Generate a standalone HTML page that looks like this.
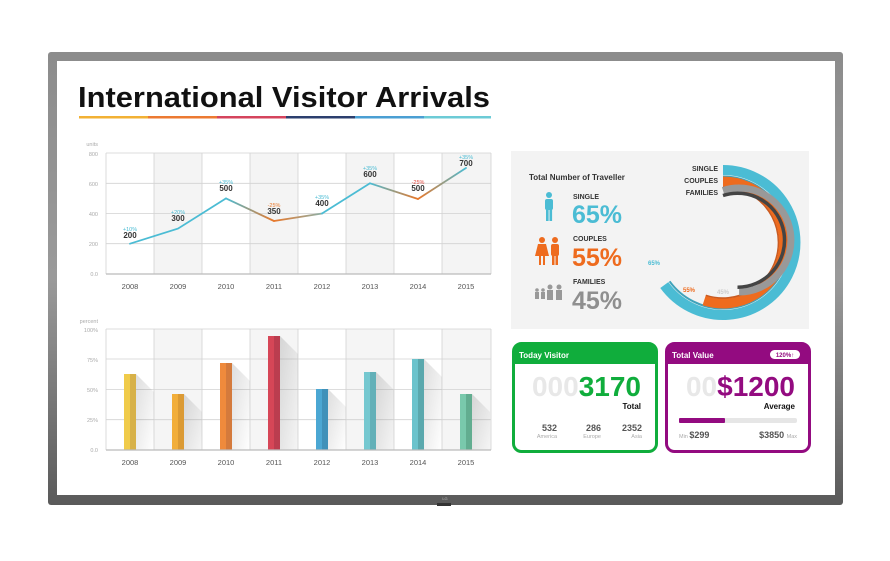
<!DOCTYPE html>
<html><head><meta charset="utf-8"><style>
html,body{margin:0;padding:0;background:#fff;}
svg{display:block;font-family:"Liberation Sans",sans-serif;}
</style></head><body>
<svg width="890" height="561" viewBox="0 0 890 561" xmlns="http://www.w3.org/2000/svg">
<defs>
<linearGradient id="bez" x1="0" y1="0" x2="0" y2="1"><stop offset="0" stop-color="#8c8c8c"/><stop offset="0.5" stop-color="#9a9a9a"/><stop offset="1" stop-color="#5a5a5a"/></linearGradient>
<linearGradient id="sh" x1="0" y1="0" x2="1" y2="1"><stop offset="0" stop-color="#000" stop-opacity="0.13"/><stop offset="1" stop-color="#000" stop-opacity="0"/></linearGradient>
<linearGradient id="g1" x1="0" x2="1"><stop offset="0" stop-color="#4bbcd4"/><stop offset="1" stop-color="#e8782a"/></linearGradient>
<linearGradient id="g2" x1="0" x2="1"><stop offset="0" stop-color="#e8782a"/><stop offset="1" stop-color="#8cb0a8"/></linearGradient>
<linearGradient id="g3" x1="0" x2="1"><stop offset="0" stop-color="#4bbcd4"/><stop offset="1" stop-color="#e8782a"/></linearGradient>
<linearGradient id="g4" x1="0" x2="1"><stop offset="0" stop-color="#e8782a"/><stop offset="1" stop-color="#4bbcd4"/></linearGradient>
</defs>
<!-- bezel -->
<rect x="48" y="52" width="795" height="453" rx="3" fill="url(#bez)"/>
<rect x="57" y="61" width="778" height="434" fill="#fff"/>
<rect x="437" y="503" width="14" height="3" fill="#333"/>
<text x="445" y="500" font-size="4" fill="#bbb" text-anchor="middle">LG</text>

<!-- title -->
<text x="78" y="107" font-size="29" font-weight="bold" fill="#111" textLength="412" lengthAdjust="spacingAndGlyphs">International Visitor Arrivals</text>
<rect x="79" y="116" width="69" height="2.5" fill="#f2b134"/>
<rect x="148" y="116" width="69" height="2.5" fill="#ec7a32"/>
<rect x="217" y="116" width="69" height="2.5" fill="#d5445d"/>
<rect x="286" y="116" width="69" height="2.5" fill="#2c3f6e"/>
<rect x="355" y="116" width="69" height="2.5" fill="#4a9fd3"/>
<rect x="424" y="116" width="67" height="2.5" fill="#6ccbd6"/>

<!-- line chart -->
<g>
<rect x="154" y="153" width="48" height="121" fill="#f4f4f4"/>
<rect x="250" y="153" width="48" height="121" fill="#f4f4f4"/>
<rect x="346" y="153" width="48" height="121" fill="#f4f4f4"/>
<rect x="442" y="153" width="49" height="121" fill="#f4f4f4"/>
<g stroke="#d2d2d2" stroke-width="0.8">
<line x1="106" y1="153" x2="491" y2="153"/><line x1="106" y1="183.3" x2="491" y2="183.3"/><line x1="106" y1="213.5" x2="491" y2="213.5"/><line x1="106" y1="243.7" x2="491" y2="243.7"/>
<line x1="106" y1="153" x2="106" y2="274"/><line x1="154" y1="153" x2="154" y2="274"/><line x1="202" y1="153" x2="202" y2="274"/><line x1="250" y1="153" x2="250" y2="274"/><line x1="298" y1="153" x2="298" y2="274"/><line x1="346" y1="153" x2="346" y2="274"/><line x1="394" y1="153" x2="394" y2="274"/><line x1="442" y1="153" x2="442" y2="274"/><line x1="491" y1="153" x2="491" y2="274"/>
</g>
<line x1="106" y1="274" x2="491" y2="274" stroke="#bbb" stroke-width="1.2"/>
<g font-size="5.5" fill="#aaa" text-anchor="end"><text x="98" y="146">units</text><text x="98" y="156">800</text><text x="98" y="186">600</text><text x="98" y="216">400</text><text x="98" y="246">200</text><text x="98" y="276">0.0</text></g>
<g stroke-width="1.8" fill="none" stroke-linecap="round">
<polyline points="130,243.7 178,228.6 226,198.4" stroke="#4bbcd4"/>
<line x1="226" y1="198.4" x2="274" y2="221" stroke="url(#g1)"/>
<line x1="274" y1="221" x2="322" y2="213.5" stroke="url(#g2)"/>
<line x1="322" y1="213.5" x2="370" y2="183.3" stroke="#4bbcd4"/>
<line x1="370" y1="183.3" x2="418" y2="199" stroke="url(#g3)"/>
<line x1="418" y1="199" x2="466" y2="168" stroke="url(#g4)"/>
</g>
<g font-size="8" font-weight="bold" fill="#333" text-anchor="middle">
<text x="130" y="238">200</text><text x="178" y="221">300</text><text x="226" y="191">500</text><text x="274" y="214">350</text><text x="322" y="206">400</text><text x="370" y="177">600</text><text x="418" y="191">500</text><text x="466" y="166">700</text></g>
<g font-size="5.5" text-anchor="middle" fill="#4bbcd4">
<text x="130" y="231">+10%</text><text x="178" y="214">+20%</text><text x="226" y="184">+35%</text><text x="274" y="207" fill="#e8782a">-25%</text><text x="322" y="199">+35%</text><text x="370" y="170">+35%</text><text x="418" y="184" fill="#e0463d">-25%</text><text x="466" y="159">+35%</text></g>
<g font-size="7.5" fill="#555" text-anchor="middle"><text x="130" y="289">2008</text><text x="178" y="289">2009</text><text x="226" y="289">2010</text><text x="274" y="289">2011</text><text x="322" y="289">2012</text><text x="370" y="289">2013</text><text x="418" y="289">2014</text><text x="466" y="289">2015</text></g>
</g>

<!-- bar chart -->
<g>
<rect x="154" y="329" width="48" height="121" fill="#f5f5f5"/>
<rect x="250" y="329" width="48" height="121" fill="#f5f5f5"/>
<rect x="346" y="329" width="48" height="121" fill="#f5f5f5"/>
<rect x="442" y="329" width="49" height="121" fill="#f5f5f5"/>
<g stroke="#d2d2d2" stroke-width="0.8">
<line x1="106" y1="329" x2="491" y2="329"/><line x1="106" y1="359" x2="491" y2="359"/><line x1="106" y1="389.5" x2="491" y2="389.5"/><line x1="106" y1="419.7" x2="491" y2="419.7"/>
<line x1="106" y1="329" x2="106" y2="450"/><line x1="154" y1="329" x2="154" y2="450"/><line x1="202" y1="329" x2="202" y2="450"/><line x1="250" y1="329" x2="250" y2="450"/><line x1="298" y1="329" x2="298" y2="450"/><line x1="346" y1="329" x2="346" y2="450"/><line x1="394" y1="329" x2="394" y2="450"/><line x1="442" y1="329" x2="442" y2="450"/><line x1="491" y1="329" x2="491" y2="450"/>
</g>
<g font-size="5.5" fill="#aaa" text-anchor="end"><text x="98" y="323">percent</text><text x="98" y="332">100%</text><text x="98" y="362">75%</text><text x="98" y="392">50%</text><text x="98" y="422">25%</text><text x="98" y="452">0.0</text></g>
<g fill="url(#sh)">
<polygon points="136,374 154,392 154,450 136,450"/>
<polygon points="184,394 202,412 202,450 184,450"/>
<polygon points="232,363 250,381 250,450 232,450"/>
<polygon points="280,336 298,354 298,450 280,450"/>
<polygon points="328,389 346,407 346,450 328,450"/>
<polygon points="376,372 394,390 394,450 376,450"/>
<polygon points="424,359 442,377 442,450 424,450"/>
<polygon points="472,394 490,412 490,450 472,450"/>
</g>
<g>
<rect x="124" y="374" width="6" height="76" fill="#f0cb4a"/><rect x="130" y="374" width="6" height="76" fill="#d7b148"/>
<rect x="172" y="394" width="6" height="56" fill="#f2ae3a"/><rect x="178" y="394" width="6" height="56" fill="#db9a34"/>
<rect x="220" y="363" width="6" height="87" fill="#ef8a3c"/><rect x="226" y="363" width="6" height="87" fill="#d47a3c"/>
<rect x="268" y="336" width="6" height="114" fill="#d64657"/><rect x="274" y="336" width="6" height="114" fill="#bb3d4f"/>
<rect x="316" y="389" width="6" height="61" fill="#4ba7d3"/><rect x="322" y="389" width="6" height="61" fill="#4091b9"/>
<rect x="364" y="372" width="6" height="78" fill="#75c8d0"/><rect x="370" y="372" width="6" height="78" fill="#63b0b8"/>
<rect x="412" y="359" width="6" height="91" fill="#6bc3cc"/><rect x="418" y="359" width="6" height="91" fill="#5aa8ad"/>
<rect x="460" y="394" width="6" height="56" fill="#79c9ac"/><rect x="466" y="394" width="6" height="56" fill="#62ad90"/>
</g>
<line x1="106" y1="450" x2="491" y2="450" stroke="#bbb" stroke-width="1.2"/>
<g font-size="7.5" fill="#555" text-anchor="middle"><text x="130" y="465">2008</text><text x="178" y="465">2009</text><text x="226" y="465">2010</text><text x="274" y="465">2011</text><text x="322" y="465">2012</text><text x="370" y="465">2013</text><text x="418" y="465">2014</text><text x="466" y="465">2015</text></g>
</g>

<!-- traveller panel -->
<rect x="511" y="151" width="298" height="178" fill="#f3f3f3"/>
<text x="529" y="180" font-size="8" font-weight="bold" fill="#333">Total Number of Traveller</text>
<g fill="#4bbcd4"><circle cx="549" cy="195" r="3"/><rect x="545" y="199" width="8" height="11" rx="2"/><rect x="546" y="208" width="2.6" height="13"/><rect x="549.5" y="208" width="2.6" height="13"/></g>
<g fill="#ee6b1e"><circle cx="542" cy="240" r="3"/><polygon points="538,244 546,244 549,256 535,256"/><rect x="539" y="255" width="2" height="10"/><rect x="543" y="255" width="2" height="10"/>
<circle cx="555" cy="240" r="3"/><rect x="551" y="244" width="8" height="12" rx="2"/><rect x="552" y="254" width="2.5" height="11"/><rect x="555.5" y="254" width="2.5" height="11"/></g>
<g fill="#999"><circle cx="537" cy="290" r="1.8"/><rect x="535" y="292" width="4" height="7"/><circle cx="543" cy="290" r="1.8"/><rect x="541" y="292" width="4" height="7"/>
<circle cx="550" cy="287" r="2.5"/><rect x="547" y="290" width="6" height="10"/><circle cx="559" cy="287" r="2.5"/><rect x="556" y="290" width="6" height="10"/></g>
<g font-weight="bold">
<text x="573" y="199" font-size="7" fill="#333">SINGLE</text>
<text x="572" y="223" font-size="25" fill="#4bbcd4">65%</text>
<text x="573" y="241" font-size="7" fill="#333">COUPLES</text>
<text x="572" y="266" font-size="25" fill="#ee6b1e">55%</text>
<text x="573" y="284" font-size="7" fill="#333">FAMILIES</text>
<text x="572" y="309" font-size="25" fill="#8f8f8f">45%</text>
</g>
<g fill="none">
<path d="M723,170 A72.5,72.5 0 1 1 664.3,285.1" stroke="#4bbcd4" stroke-width="10"/>
<path d="M723,176.5 A66,66 0 1 1 669.6,281.3" stroke="#3fa3bb" stroke-width="2"/>
<path d="M723,181.5 A61,61 0 1 1 704.1,300.5" stroke="#ee6b1e" stroke-width="10"/>
<path d="M723,187 A55.5,55.5 0 1 1 705.8,295.3" stroke="#c95a20" stroke-width="1.5"/>
<path d="M723,190.5 A52,52 0 1 1 739.1,292" stroke="#999" stroke-width="7"/>
<path d="M723,195.5 A47,47 0 1 1 737.5,287.2" stroke="#444" stroke-width="3.5"/>
</g>
<g font-size="7" font-weight="bold" fill="#333" text-anchor="end">
<text x="718" y="171">SINGLE</text><text x="718" y="183">COUPLES</text><text x="718" y="195">FAMILIES</text></g>
<g font-size="6" font-weight="bold">
<text x="648" y="265" fill="#4bbcd4">65%</text><text x="683" y="292" fill="#ee6b1e">55%</text><text x="717" y="294" fill="#ccc">45%</text></g>

<!-- Today visitor -->
<rect x="513.5" y="343.5" width="143" height="108" rx="8" fill="#fff" stroke="#10ad3c" stroke-width="3"/>
<path d="M513,351 a8,8 0 0 1 8,-8 h128 a8,8 0 0 1 8,8 v13 h-144z" fill="#10ad3c"/>
<text x="519" y="358" font-size="8" font-weight="bold" fill="#fff">Today Visitor</text>
<text x="641" y="396" font-size="28" font-weight="bold" text-anchor="end"><tspan fill="#e8e8e8">000</tspan><tspan fill="#10ad3c">3170</tspan></text>
<text x="641" y="409" font-size="8" font-weight="bold" fill="#111" text-anchor="end">Total</text>
<g text-anchor="end" font-weight="bold" font-size="9" fill="#555"><text x="557" y="431">532</text><text x="601" y="431">286</text><text x="642" y="431">2352</text></g>
<g text-anchor="end" font-size="5.5" fill="#aaa"><text x="557" y="438">America</text><text x="601" y="438">Europe</text><text x="642" y="438">Asia</text></g>

<!-- Total value -->
<rect x="666.5" y="343.5" width="143" height="108" rx="8" fill="#fff" stroke="#930b80" stroke-width="3"/>
<path d="M666,351 a8,8 0 0 1 8,-8 h128 a8,8 0 0 1 8,8 v13 h-144z" fill="#930b80"/>
<text x="672" y="358" font-size="8" font-weight="bold" fill="#fff">Total Value</text>
<rect x="770" y="350" width="30" height="9" rx="4.5" fill="#fff"/>
<text x="785" y="357" font-size="6" font-weight="bold" fill="#930b80" text-anchor="middle">120%↑</text>
<text x="795" y="396" font-size="28" font-weight="bold" text-anchor="end"><tspan fill="#e8e8e8">00</tspan><tspan fill="#930b80">$1200</tspan></text>
<text x="795" y="409" font-size="8" font-weight="bold" fill="#111" text-anchor="end">Average</text>
<rect x="679" y="418" width="118" height="5" rx="2" fill="#e6e6e6"/>
<rect x="679" y="418" width="46" height="5" rx="1" fill="#930b80"/>
<text x="679" y="438" font-size="5.5" fill="#aaa">Min <tspan font-size="9" font-weight="bold" fill="#555">$299</tspan></text>
<text x="797" y="438" font-size="9" font-weight="bold" fill="#555" text-anchor="end">$3850 <tspan font-size="5.5" font-weight="normal" fill="#aaa">Max</tspan></text>
</svg>
</body></html>
